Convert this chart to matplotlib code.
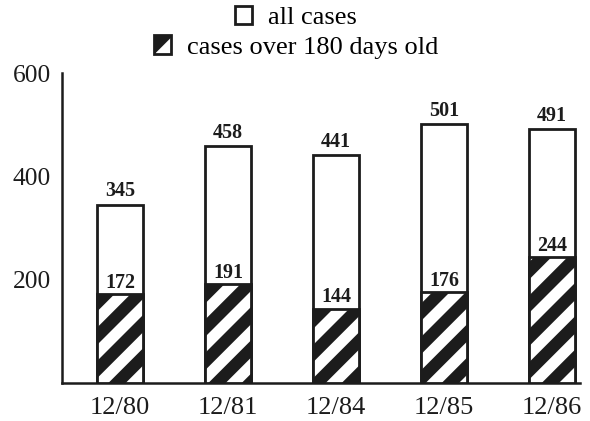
import matplotlib
matplotlib.use("Agg")
import matplotlib.pyplot as plt
from matplotlib.patches import Patch

# Case backlog by year end
periods = ['12/80', '12/81', '12/84', '12/85', '12/86']
all_cases = [345, 458, 441, 501, 491]
old_cases = [172, 191, 144, 176, 244]
y_ticks = [200, 400, 600]

ink = '#1c1c1c'
matplotlib.rcParams['font.family'] = ['Liberation Serif', 'DejaVu Serif']
matplotlib.rcParams['hatch.linewidth'] = 4.4
matplotlib.rcParams['hatch.color'] = ink

fig = plt.figure(figsize=(2.95, 2.105), dpi=200)
ax = fig.add_axes([0.105, 0.0903, 0.878, 0.7363])

x = range(len(periods))
width = 0.43
ax.bar(x, all_cases, width=width, facecolor='white', edgecolor=ink, linewidth=1.0, zorder=2)
ax.bar(x, old_cases, width=width, facecolor='white', edgecolor=ink, hatch='//', linewidth=1.0, zorder=3)

# value labels: totals above the bars, old cases just above the striped part
for i in x:
    ax.annotate(str(all_cases[i]), (i, all_cases[i]), xytext=(0, 1.3), textcoords='offset points',
                ha='center', va='bottom', fontsize=7.2, fontweight='bold', color=ink)
    ax.annotate(str(old_cases[i]), (i, old_cases[i]), xytext=(0, 0.4), textcoords='offset points',
                ha='center', va='bottom', fontsize=7.2, fontweight='bold', color=ink, zorder=4)

ax.set_xlim(-0.537, 4.26)
ax.set_ylim(0, 600)
ax.set_xticks(list(x))
ax.set_xticklabels(periods)
ax.set_yticks(y_ticks)
ax.tick_params(length=0, colors=ink)
ax.tick_params(axis='x', pad=5, labelsize=9.5)
ax.tick_params(axis='y', pad=4, labelsize=9.2)
for side in ['top', 'right']:
    ax.spines[side].set_visible(False)
for side in ['left', 'bottom']:
    ax.spines[side].set_linewidth(0.9)
    ax.spines[side].set_color(ink)

# legend, one centred line per entry
h_all = Patch(facecolor='white', edgecolor=ink, linewidth=1.0, label='all cases')
h_old = Patch(facecolor='white', edgecolor=ink, hatch='//', linewidth=1.0, label='cases over 180 days old')
for handle, pos in [(h_all, (0.502, 0.958)), (h_old, (0.502, 0.888))]:
    fig.legend(handles=[handle], loc='center', bbox_to_anchor=pos, frameon=False,
               fontsize=9.5, handlelength=0.65, handleheight=0.7, handletextpad=0.6,
               borderpad=0, borderaxespad=0)

fig.savefig('out.png', dpi=200, facecolor='white')
